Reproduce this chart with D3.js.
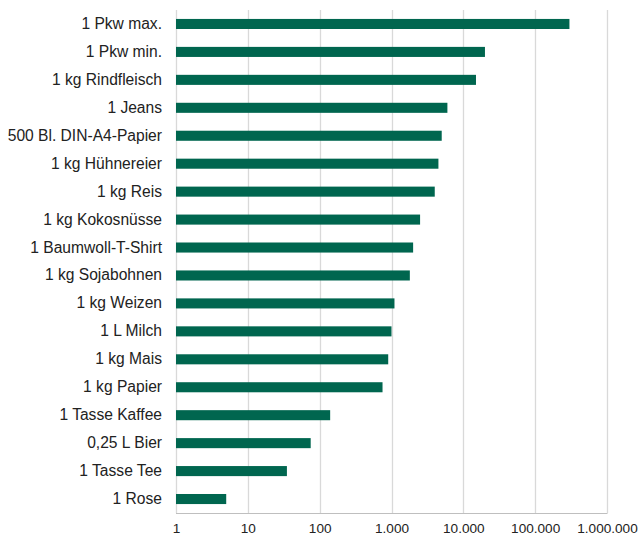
<!DOCTYPE html>
<html><head><meta charset="utf-8">
<script src="https://cdn.jsdelivr.net/npm/d3@7"></script>
<style>body{margin:0;background:#fff}svg{display:block}</style>
</head><body><svg id="c" width="639" height="536"></svg>
<script>
const categories = ["1 Pkw max.","1 Pkw min.","1 kg Rindfleisch","1 Jeans","500 Bl. DIN-A4-Papier","1 kg Hühnereier","1 kg Reis","1 kg Kokosnüsse","1 Baumwoll-T-Shirt","1 kg Sojabohnen","1 kg Weizen","1 L Milch","1 kg Mais","1 kg Papier","1 Tasse Kaffee","0,25 L Bier","1 Tasse Tee","1 Rose"];
const values = [300000,20000,15000,6000,5000,4500,4000,2500,2000,1800,1100,1000,900,750,140,75,35,5];
const tickValues = [1,10,100,1000,10000,100000,1000000];
const tickLabels = ["1","10","100","1.000","10.000","100.000","1.000.000"];

const svg = d3.select("#c");
const L = 176, R = 607, T = 10, B = 513;
const x = d3.scaleLog().domain([1,1000000]).range([L,R]);
const y = d3.scaleBand().domain(categories).range([T,B]).paddingInner(0.64).paddingOuter(0.32);

svg.append("g").selectAll("line").data(tickValues).join("line")
  .attr("x1",d=>Math.round(x(d))+0.5).attr("x2",d=>Math.round(x(d))+0.5)
  .attr("y1",T).attr("y2",B).attr("stroke","#d9d9d9").attr("stroke-width",1.3);

svg.append("line").attr("x1",L).attr("x2",R+0.5).attr("y1",B+0.5).attr("y2",B+0.5)
  .attr("stroke","#bfbfbf").attr("stroke-width",1);

svg.append("g").selectAll("rect").data(categories).join("rect")
  .attr("x",x(1)).attr("y",d=>y(d)).attr("height",y.bandwidth())
  .attr("width",(d,i)=>x(values[i])-x(1)).attr("fill","#00664f");

const xAxis = d3.axisBottom(x).tickValues(tickValues).tickFormat((d,i)=>tickLabels[i]).tickSize(0);
const gx = svg.append("g").attr("transform",`translate(0,${B})`).call(xAxis);
gx.select(".domain").remove();
gx.selectAll("text").attr("y",20).attr("dy",0)
  .attr("font-family","Liberation Sans, Arial, sans-serif").attr("font-size",13.6).attr("fill","#222");

const yAxis = d3.axisLeft(y).tickSize(0).tickPadding(14);
const gy = svg.append("g").attr("transform",`translate(${L},0)`).call(yAxis);
gy.select(".domain").remove();
gy.selectAll("text").attr("font-family","Liberation Sans, Arial, sans-serif").attr("font-size",15.6).attr("fill","#222");
</script></body></html>
